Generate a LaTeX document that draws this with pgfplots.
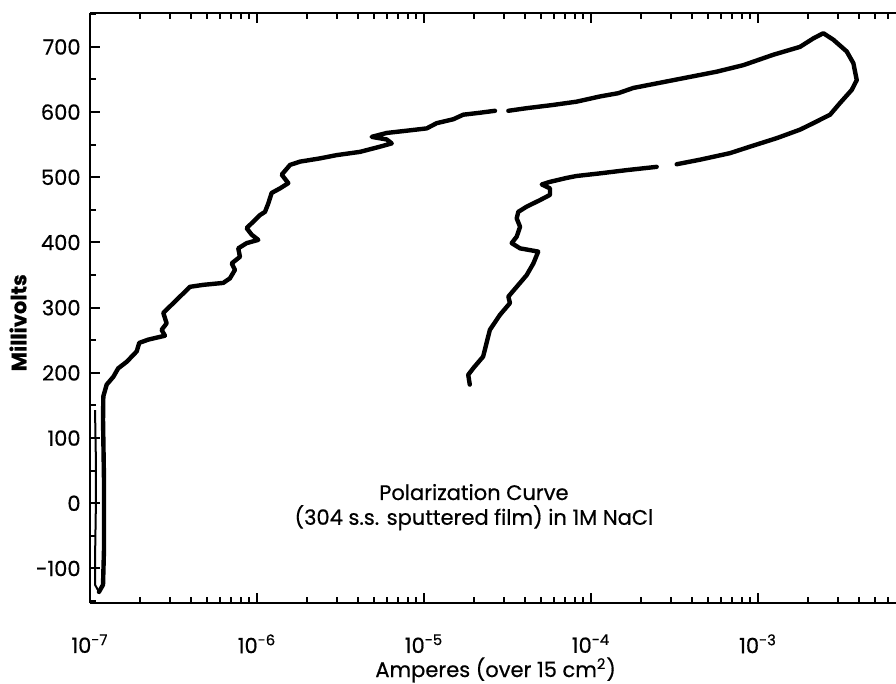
\documentclass[border=0pt]{standalone}
\usepackage{fontspec}
\setmainfont{Poppins}[FakeBold=0.6]
\usepackage{pgfplots}
\pgfplotsset{compat=1.18}

\begin{document}
\fontsize{10.5}{12.6}\selectfont%
\begin{tikzpicture}
\begin{axis}[
    scale only axis,
    width=403pt, height=295pt,
    xmode=log,
    xmin=1e-7, xmax=6.7e-3,
    ymin=-153, ymax=752,
    axis x line=box, axis y line=left,
    axis line style={-, line width=1.4pt},
    every outer x axis line/.append style={-},
    every outer y axis line/.append style={-},
    tick align=inside,
    tick style={black, line width=1pt},
    major tick length=5pt, minor tick length=2.8pt,
    xtick={1e-7,1e-6,1e-5,1e-4,1e-3},
    xticklabels={10\textsuperscript{-7},10\textsuperscript{-6},10\textsuperscript{-5},10\textsuperscript{-4},10\textsuperscript{-3}},
    minor xtick={2e-7,3e-7,4e-7,5e-7,6e-7,7e-7,8e-7,9e-7,
                 2e-6,3e-6,4e-6,5e-6,6e-6,7e-6,8e-6,9e-6,
                 2e-5,3e-5,4e-5,5e-5,6e-5,7e-5,8e-5,9e-5,
                 2e-4,3e-4,4e-4,5e-4,6e-4,7e-4,8e-4,9e-4,
                 2e-3,3e-3,4e-3,5e-3,6e-3},
    ytick={-100,0,...,700},
    minor ytick={-150,-50,...,750},
    x tick label style={yshift=-12pt},
    y tick label style={xshift=-1pt, /pgf/number format/assume math mode=true},
    xlabel={Amperes (over 15 cm\textsuperscript{2})},
    ylabel={\bfseries Millivolts},
    every axis x label/.style={at={([yshift=-37pt]axis description cs:0.3536,0)}, anchor=base west, inner sep=0pt},
    every axis y label/.style={at={([xshift=-36pt]axis description cs:0,0.475)}, rotate=90, anchor=center},
    unbounded coords=jump,
    clip=false,
]
% thin strand along the axis at the start of the scan
\addplot[black, line width=1pt] coordinates {
    (1.072e-7,143) (1.086e-7,60) (1.086e-7,5) (1.072e-7,-87) (1.072e-7,-125) (1.132e-7,-136)
};
% main polarization curve
\addplot[black, line width=2.2pt, line join=round, line cap=round] coordinates {
    (1.132e-7,-136) (1.197e-7,-125) (1.213e-7,-71) (1.213e-7,36) (1.197e-7,128)
    (1.202e-7,164) (1.259e-7,182) (1.380e-7,194) (1.476e-7,207) (1.660e-7,217)
    (1.905e-7,233) (1.972e-7,246) (2.234e-7,251) (2.812e-7,257) (2.685e-7,266)
    (2.877e-7,276) (2.748e-7,292) (3.013e-7,302) (3.459e-7,317) (3.972e-7,332)
    (4.766e-7,335) (6.281e-7,338) (6.887e-7,345) (7.379e-7,358) (7.060e-7,368)
    (7.907e-7,378) (7.727e-7,391) (8.670e-7,399) (1.018e-6,404) (9.290e-7,412)
    (8.670e-7,422) (9.506e-7,432) (1.042e-6,442) (1.117e-6,447) (1.169e-6,460)
    (1.224e-6,476) (1.374e-6,483) (1.540e-6,491) (1.406e-6,504) (1.578e-6,519)
    (1.808e-6,524) (2.384e-6,529) (3.000e-6,534) (4.140e-6,539) (5.460e-6,547)
    (6.410e-6,552) (5.980e-6,558) (4.860e-6,562) (5.980e-6,568) (8.240e-6,572)
    (1.038e-5,575) (1.191e-5,583) (1.497e-5,589) (1.718e-5,596) (2.163e-5,599)
    (2.661e-5,602)
    (2.9e-5,nan)
    (3.199e-5,602) (4.121e-5,606) (5.943e-5,611) (8.200e-5,616) (1.132e-4,624)
    (1.456e-4,629) (1.791e-4,637) (2.838e-4,647) (4.498e-4,657) (5.662e-4,662)
    (8.166e-4,672) (1.236e-3,688) (1.782e-3,700) (2.143e-3,713) (2.460e-3,721)
    (2.825e-3,711) (3.396e-3,693) (3.724e-3,675) (3.900e-3,649) (3.640e-3,634)
    (3.100e-3,614) (2.700e-3,596) (2.143e-3,583) (1.782e-3,573) (1.294e-3,560)
    (8.954e-4,547) (6.790e-4,537) (4.498e-4,527) (3.258e-4,520)
    (2.9e-4,nan)
    (2.472e-4,516) (1.636e-4,511) (1.132e-4,506) (8.200e-5,502) (7.145e-5,499)
    (5.680e-5,493) (5.070e-5,489) (5.680e-5,483) (5.680e-5,473) (4.950e-5,465)
    (4.120e-5,455) (3.670e-5,447) (3.590e-5,437) (3.760e-5,424) (3.590e-5,409)
    (3.350e-5,399) (3.760e-5,391) (4.830e-5,386) (4.520e-5,368) (4.120e-5,350)
    (3.590e-5,332) (3.200e-5,317) (3.270e-5,307) (2.850e-5,289) (2.480e-5,266)
    (2.370e-5,246) (2.260e-5,225) (1.970e-5,207) (1.840e-5,197) (1.880e-5,182)
};
\node[anchor=base] at (axis cs:1.99e-5,5) {Polarization Curve};
\node[anchor=base] at (axis cs:1.99e-5,-33) {(304 s.s. sputtered film) in 1M NaCl};
\end{axis}
\pgfresetboundingbox
\path ([xshift=-45pt,yshift=-40pt]current axis.south west) rectangle ([yshift=6.5pt]current axis.north east);
\end{tikzpicture}%
\end{document}
